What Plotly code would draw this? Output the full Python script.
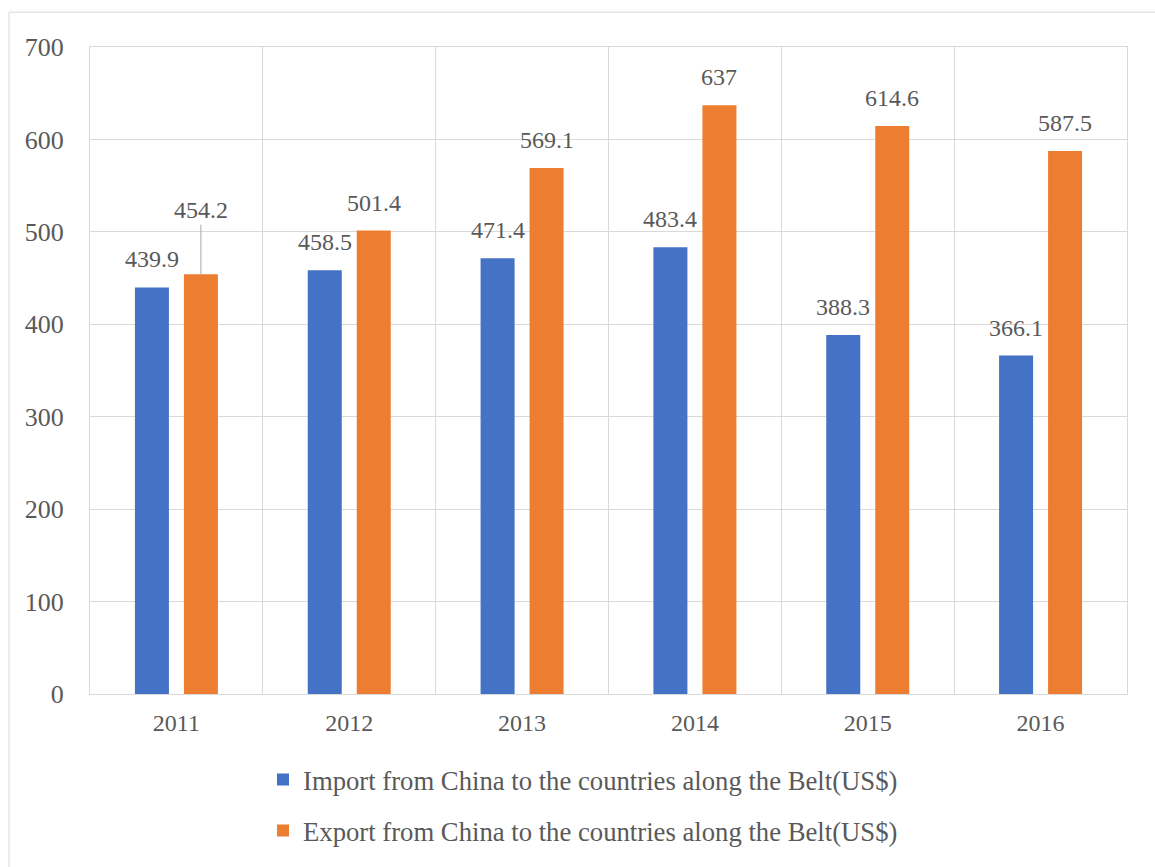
import plotly.graph_objects as go

# Trade between China and the countries along the Belt, 2011-2016
years = ["2011", "2012", "2013", "2014", "2015", "2016"]
imports = [439.9, 458.5, 471.4, 483.4, 388.3, 366.1]
exports = [454.2, 501.4, 569.1, 637, 614.6, 587.5]
import_name = "Import from China to the countries along the Belt(US$)"
export_name = "Export from China to the countries along the Belt(US$)"
y_ticks = [0, 100, 200, 300, 400, 500, 600, 700]

BLUE = "#4472C4"
ORANGE = "#ED7D31"
TEXT = "#595959"
GRID = "#D9D9D9"
FONT = "Liberation Serif"

W, H = 1155, 867
ML, MR, MT, MB = 90, 28, 47, 171
PW, PH = W - ML - MR, H - MT - MB


def px_x(p):
    return (p - ML) / PW


def px_y(p):
    return (H - MB - p) / PH


fig = go.Figure()
fig.add_trace(go.Bar(x=years, y=imports, name=import_name,
                     marker=dict(color=BLUE, line=dict(width=0)),
                     legend="legend"))
fig.add_trace(go.Bar(x=years, y=exports, name=export_name,
                     marker=dict(color=ORANGE, line=dict(width=0)),
                     legend="legend2"))

# value labels above each bar (category index used as the x position)
annotations = []
shift = 24.5
for vals, dx in ((imports, -shift), (exports, shift)):
    for i, v in enumerate(vals):
        label = f"{v:g}"
        if i == 0 and dx > 0:
            annotations.append(dict(
                x=i, y=v, xref="x", yref="y", text=label, xshift=dx,
                showarrow=True, ax=0, ay=-64, arrowhead=0, arrowwidth=1,
                arrowcolor="#A6A6A6", standoff=0,
                font=dict(family=FONT, size=24, color=TEXT)))
        else:
            annotations.append(dict(
                x=i, y=v, xref="x", yref="y", text=label, xshift=dx,
                yshift=28, yanchor="middle", showarrow=False,
                font=dict(family=FONT, size=24, color=TEXT)))

# outer frame of the chart area
shapes = [
    dict(type="line", xref="paper", yref="paper",
         x0=px_x(9), x1=px_x(W + 20), y0=px_y(12), y1=px_y(12),
         line=dict(color=GRID, width=1)),
    dict(type="line", xref="paper", yref="paper",
         x0=px_x(9), x1=px_x(9), y0=px_y(12), y1=px_y(H + 20),
         line=dict(color=GRID, width=1)),
]

legend_common = dict(
    orientation="v", xref="paper", yref="paper", xanchor="left",
    yanchor="middle", bgcolor="rgba(0,0,0,0)", borderwidth=0,
    font=dict(family=FONT, size=26.7, color=TEXT),
    itemclick=False, itemdoubleclick=False,
)

fig.update_layout(
    width=W, height=H,
    margin=dict(l=ML, r=MR, t=MT, b=MB, pad=0),
    paper_bgcolor="white", plot_bgcolor="white",
    barmode="group", bargap=0.433, bargroupgap=0.306,
    font=dict(family=FONT, color=TEXT),
    showlegend=True,
    legend=dict(x=px_x(263), y=px_y(782), **legend_common),
    legend2=dict(x=px_x(263), y=px_y(833), **legend_common),
    annotations=annotations,
    shapes=shapes,
    xaxis=dict(
        type="category", categoryorder="array", categoryarray=years,
        range=[-0.5, len(years) - 0.5], tickson="boundaries",
        showgrid=True, gridcolor=GRID, gridwidth=1, showline=True,
        linecolor=GRID, linewidth=1, mirror=True, ticks="",
        ticklabelstandoff=7, tickangle=0,
        tickfont=dict(family=FONT, size=24, color=TEXT),
    ),
    yaxis=dict(
        range=[0, 700], tickvals=y_ticks, showgrid=True, gridcolor=GRID,
        gridwidth=1, showline=True, linecolor=GRID, linewidth=1,
        mirror=True, ticks="", zeroline=False, ticklabelstandoff=20,
        tickfont=dict(family=FONT, size=26, color=TEXT),
    ),
)

fig.write_html("out.html")
